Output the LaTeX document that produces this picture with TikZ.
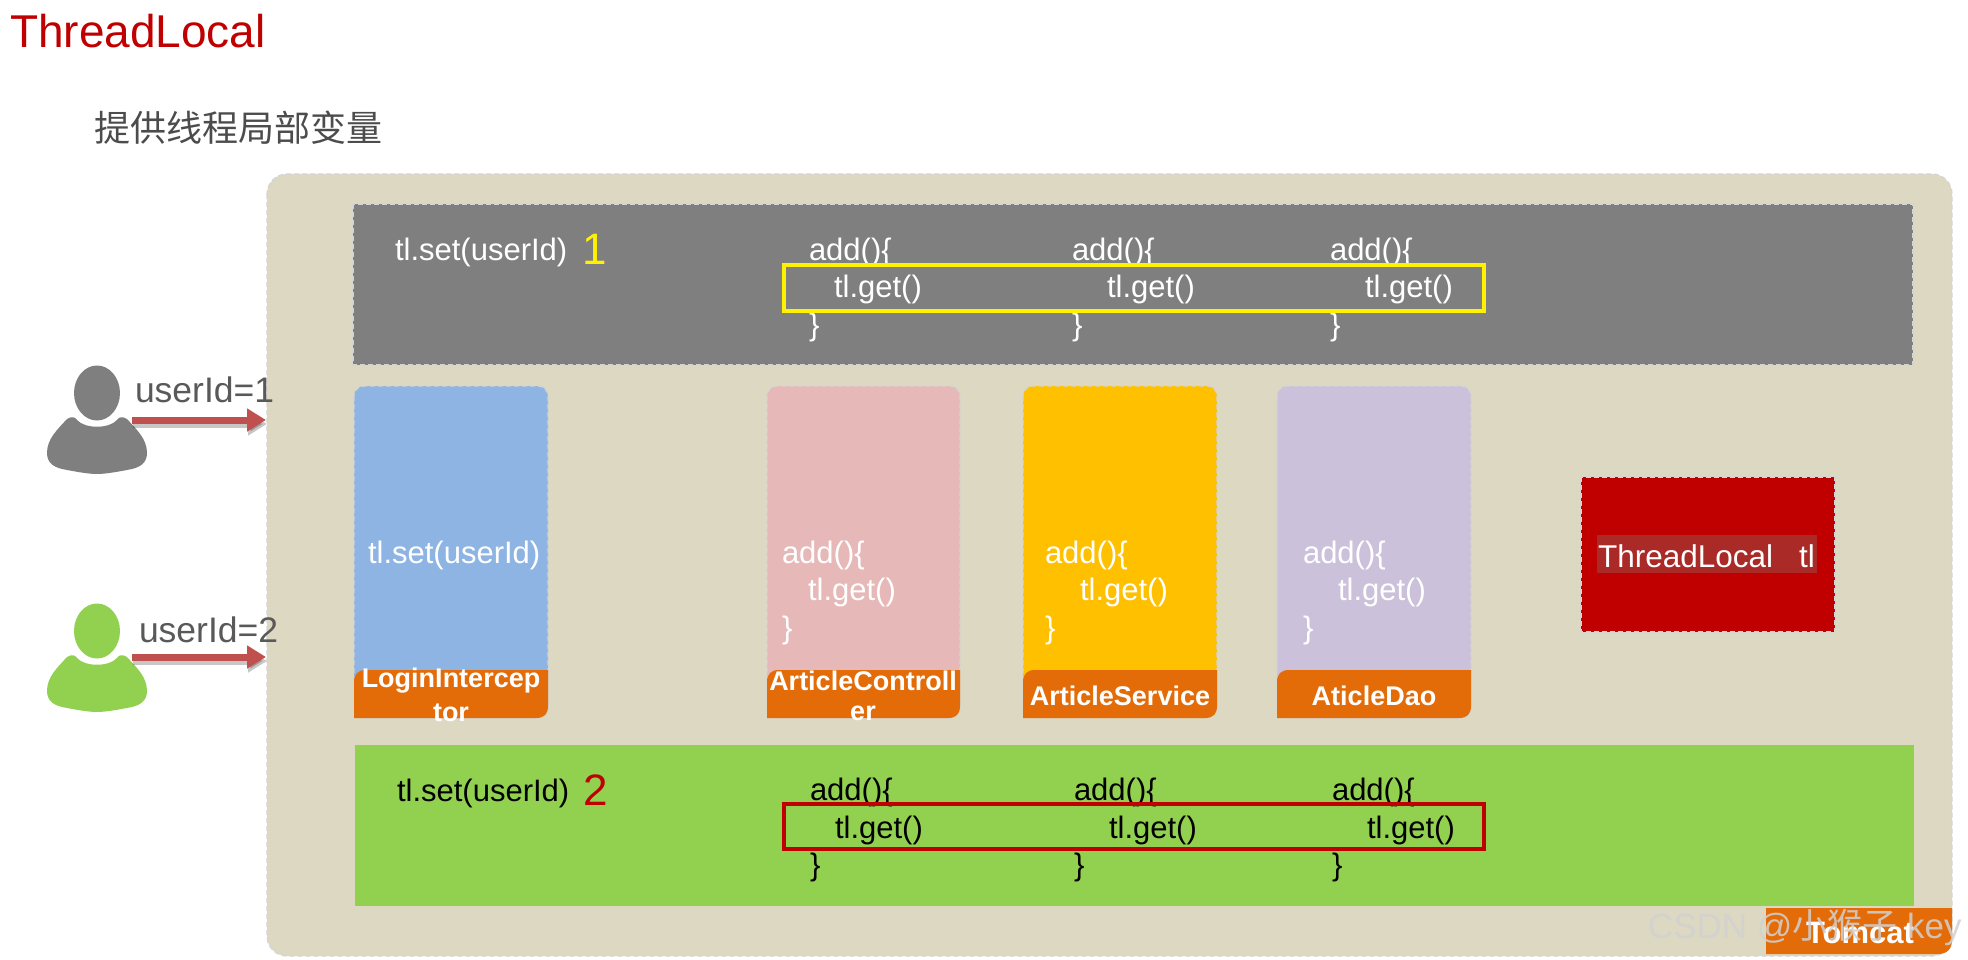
\documentclass[tikz,border=0pt]{standalone}
\usepackage{fontspec}
\setmainfont{Liberation Sans}
\newfontfamily\cjk{Noto Sans CJK SC}
\usetikzlibrary{arrows.meta}
\definecolor{tomcatbg}{HTML}{DDD8C2}
\definecolor{boxgray}{HTML}{7F7F7F}
\definecolor{cblue}{HTML}{8EB4E3}
\definecolor{cpink}{HTML}{E6B9B8}
\definecolor{cyellow}{HTML}{FFC000}
\definecolor{cpurple}{HTML}{CCC1DA}
\definecolor{cred}{HTML}{C00000}
\definecolor{cgreen}{HTML}{92D050}
\definecolor{corange}{HTML}{E36C09}
\definecolor{arrowred}{HTML}{C0504D}
\definecolor{txtgray}{HTML}{595959}
\definecolor{hilite}{HTML}{A92A26}
\definecolor{edge}{HTML}{D4D4D4}
\tikzset{
 x=1pt,y=-1pt,
 txt/.style={anchor=base west,inner sep=0pt,outer sep=0pt},
 code/.style={txt,font=\fontsize{31}{36}\selectfont},
 user/.style={txt,text=txtgray,font=\fontsize{35.5}{40}\selectfont},
 band/.style={line width=1.2pt,dash pattern=on 5pt off 3pt},
 hl/.style={line width=3.2pt,fill=none},
 tag/.style={anchor=center,inner sep=0pt,align=center,text=white,font=\bfseries\fontsize{27}{31}\selectfont},
 flow/.style={draw=arrowred,line width=7pt,-{Triangle[length=19pt,width=22pt]}},
 flowshade/.style={draw=black,opacity=.22,line width=7pt,-{Triangle[length=19pt,width=22pt]}},
}
\newcommand{\personshape}[3]{% x y colour
 \fill[#3] (#1,#2) ellipse [x radius=23,y radius=27.5];
 \fill[#3] (#1-30,#2+26) .. controls (#1-25,#2+23) and (#1-22,#2+24) .. (#1-20,#2+27)
  .. controls (#1-12,#2+36) and (#1+12,#2+36) .. (#1+20,#2+27)
  .. controls (#1+22,#2+24) and (#1+25,#2+23) .. (#1+30,#2+26)
  .. controls (#1+40,#2+37) and (#1+50,#2+46) .. (#1+50,#2+60)
  .. controls (#1+50,#2+70) and (#1+43,#2+74) .. (#1+35,#2+76)
  .. controls (#1+20,#2+79) and (#1+8,#2+81) .. (#1,#2+81)
  .. controls (#1-8,#2+81) and (#1-20,#2+79) .. (#1-35,#2+76)
  .. controls (#1-43,#2+74) and (#1-50,#2+70) .. (#1-50,#2+60)
  .. controls (#1-50,#2+46) and (#1-40,#2+37) .. (#1-30,#2+26) -- cycle;
}
\newcommand{\tagshape}[2]{% x0 x1
 \fill[corange] (#1,718) -- (#1,682) .. controls (#1,674) and (#1+4,670) .. (#1+12,670)
  -- (#2,670) -- (#2,706) .. controls (#2,714) and (#2-4,718) .. (#2-12,718) -- cycle;
}
\newcommand{\card}[3]{% x0 x1 colour
 \draw[fill=#3,draw=edge,band,rounded corners=10pt] (#1,386) rectangle (#2,718);
}
\begin{document}
\begin{tikzpicture}
\useasboundingbox (0,0) rectangle (1968,960);
\fill[white] (0,0) rectangle (1968,960);

\node[txt,text=cred,font=\fontsize{46}{52}\selectfont] (title) at (10,48) {ThreadLocal};
\node[txt,text=txtgray!85!black,font=\cjk\fontsize{36}{42}\selectfont] (sub) at (94,142) {提供线程局部变量};

% Tomcat container
\draw[fill=tomcatbg,draw=edge,band,rounded corners=20pt] (267,174) rectangle (1952,956);
\coordinate (inA) at (266,420);
\coordinate (inB) at (266,657);

% gray thread band
\draw[fill=boxgray,draw=edge,band] (353,204) rectangle (1913,365);
\node[code,text=white] (g1) at (395,261) {tl.set(userId)};
\node[txt,text=yellow,font=\fontsize{44}{50}\selectfont] (gn) at (582,265) {1};
\foreach \n/\a/\b in {a/809/834,b/1072/1107,c/1330/1365}{
 \node[code,text=white] (gadd\n) at (\a,261) {add()\{};
 \node[code,text=white] (gget\n) at (\b,298) {tl.get()};
 \node[code,text=white] (gend\n) at (\a,335) {\}};
}
\draw[yellow,hl] (784,265) rectangle (1484,311);

% cards
\card{354}{548}{cblue}\tagshape{354}{548}
\card{767}{960}{cpink}\tagshape{767}{960}
\card{1023}{1217}{cyellow}\tagshape{1023}{1217}
\card{1277}{1471}{cpurple}\tagshape{1277}{1471}
\node[code,text=white] (c1) at (368,563) {tl.set(userId)};
\node[code,text=white] (c2a) at (782,563) {add()\{};
\node[code,text=white] (c2b) at (808,600) {tl.get()};
\node[code,text=white] (c2c) at (782,638) {\}};
\node[code,text=white] (c3a) at (1045,563) {add()\{};
\node[code,text=white] (c3b) at (1080,600) {tl.get()};
\node[code,text=white] (c3c) at (1045,638) {\}};
\node[code,text=white] (c4a) at (1303,563) {add()\{};
\node[code,text=white] (c4b) at (1338,600) {tl.get()};
\node[code,text=white] (c4c) at (1303,638) {\}};
\node[tag] (t1) at (451,681) {LoginIntercep};
\node[tag] (t1b) at (451,713) {tor};
\node[tag] (t2) at (863,681) {ArticleControll};
\node[tag] (t2b) at (863,713) {er};
\node[tag] (t3) at (1120,696) {ArticleService};
\node[tag] (t4) at (1374,696) {AticleDao};

% ThreadLocal box
\draw[fill=cred,draw=edge,band] (1581,477) rectangle (1835,632);
\fill[hilite] (1597,535) rectangle (1817,573);
\node[code,text=white,font=\fontsize{31.5}{36}\selectfont] (tl) at (1598,567) {ThreadLocal};
\node[code,text=white,font=\fontsize{31.5}{36}\selectfont] (tl2) at (1799,567) {tl};

% green thread band
\fill[cgreen] (355,745) rectangle (1914,906);
\node[code] (h1) at (397,801) {tl.set(userId)};
\node[txt,text=cred,font=\fontsize{44}{50}\selectfont] (hn) at (583,805) {2};
\foreach \n/\a/\b in {a/810/835,b/1074/1109,c/1332/1367}{
 \node[code] (hadd\n) at (\a,800) {add()\{};
 \node[code] (hget\n) at (\b,838) {tl.get()};
 \node[code] (hend\n) at (\a,875) {\}};
}
\draw[cred,hl] (784,804) rectangle (1484,849);

% Tomcat label
\fill[corange] (1766,954) -- (1766,908) -- (1952,908) -- (1952,940) .. controls (1952,949) and (1947,954) .. (1938,954) -- cycle;
\node[tag,font=\bfseries\fontsize{31}{36}\selectfont] (tomcat) at (1860,933) {Tomcat};

% users
\personshape{97}{393}{boxgray}
\personshape{97}{631}{cgreen}
\coordinate (u1) at (132,420);
\coordinate (u2) at (132,657);
\draw[flowshade] ([shift={(1,4)}]u1) -- ([shift={(1,4)}]inA);
\draw[flow] (u1) -- (inA);
\draw[flowshade] ([shift={(1,4)}]u2) -- ([shift={(1,4)}]inB);
\draw[flow] (u2) -- (inB);
\node[user] (ua) at (135,402) {userId=1};
\node[user] (ub) at (139,642) {userId=2};

% watermark
\node[txt,text=white!82!black,opacity=.85,font=\fontsize{35}{40}\selectfont] (wm) at (1648,938) {CSDN @{\cjk 小猴子} key};
\end{tikzpicture}
\end{document}
